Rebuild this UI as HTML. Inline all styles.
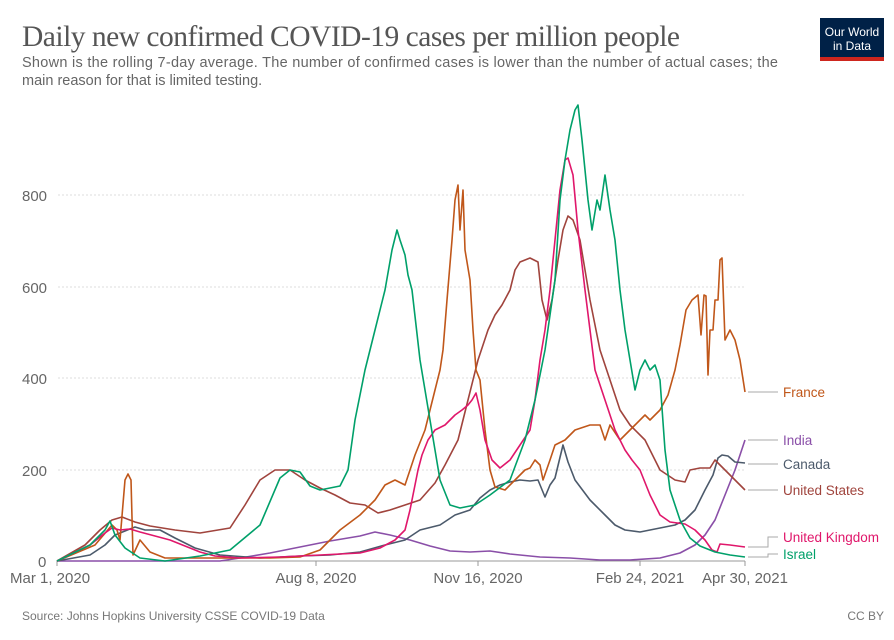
<!DOCTYPE html>
<html><head><meta charset="utf-8"><style>
body{margin:0;background:#fff;width:894px;height:635px;overflow:hidden;font-family:"Liberation Sans",sans-serif}
</style></head><body>
<svg width="894" height="635" viewBox="0 0 894 635" xmlns="http://www.w3.org/2000/svg" font-family="Liberation Sans, sans-serif">
<text x="22" y="46" font-family="Liberation Serif, serif" font-size="29.5" fill="#555" textLength="658">Daily new confirmed COVID-19 cases per million people</text>
<text x="22" y="67" font-size="14.5" fill="#666" textLength="756">Shown is the rolling 7-day average. The number of confirmed cases is lower than the number of actual cases; the</text>
<text x="22" y="85" font-size="14.5" fill="#666">main reason for that is limited testing.</text>
<rect x="820" y="18" width="64" height="42" fill="#002147"/>
<rect x="820" y="57" width="64" height="4" fill="#ce261e"/>
<text x="852" y="36" font-size="12" fill="#fff" text-anchor="middle">Our World</text>
<text x="852" y="50" font-size="12" fill="#fff" text-anchor="middle">in Data</text>
<g stroke="#ddd" stroke-dasharray="2,2" stroke-width="1">
<line x1="58" y1="195" x2="745" y2="195"/><line x1="58" y1="287" x2="745" y2="287"/>
<line x1="58" y1="378" x2="745" y2="378"/><line x1="58" y1="470" x2="745" y2="470"/>
</g>
<line x1="57" y1="561" x2="745" y2="561" stroke="#999"/>
<g stroke="#999"><line x1="316" y1="561" x2="316" y2="566"/><line x1="478" y1="561" x2="478" y2="566"/><line x1="640" y1="561" x2="640" y2="566"/><line x1="745" y1="561" x2="745" y2="566"/><line x1="57" y1="561" x2="57" y2="566"/></g>
<g font-size="15" fill="#666">
<text x="22" y="201">800</text><text x="22" y="293">600</text><text x="22" y="384">400</text><text x="22" y="476">200</text><text x="38" y="567">0</text>
<text x="10" y="583">Mar 1, 2020</text><text x="316" y="583" text-anchor="middle">Aug 8, 2020</text><text x="478" y="583" text-anchor="middle">Nov 16, 2020</text><text x="640" y="583" text-anchor="middle">Feb 24, 2021</text><text x="745" y="583" text-anchor="middle">Apr 30, 2021</text>
</g>
<g fill="none" stroke-width="1.6" stroke-linejoin="round">
<polyline stroke="#8a4fa8" points="57,561 220,561 240,558 270,553 300,547 330,541 360,536 375,532 390,535 410,540 430,546 450,551 470,552 490,551 510,554 540,557 570,558 600,560 630,560 660,558 680,553 695,545 705,535 715,520 725,495 735,470 745,440"/>
<polyline stroke="#4c5a6b" points="57,561 90,555 105,545 115,535 125,531 135,527 145,530 160,530 175,538 195,548 220,555 260,558 300,556 330,555 360,552 385,545 405,540 420,530 440,525 455,515 470,510 480,498 490,490 500,485 510,482 520,480 530,481 538,480 545,497 550,485 555,478 563,445 568,462 575,480 590,500 605,515 615,525 625,530 640,532 660,528 675,525 685,520 695,510 705,490 713,475 718,458 722,455 728,456 735,462 745,463"/>
<polyline stroke="#a0443d" points="57,561 85,545 100,530 112,520 122,517 135,522 150,526 175,530 200,533 230,528 245,505 260,480 275,470 290,470 305,480 320,488 335,495 350,503 365,505 378,513 390,510 405,505 420,500 435,483 445,465 458,440 468,400 478,360 488,330 495,315 502,305 510,290 515,270 520,262 530,258 538,262 542,300 547,320 552,300 558,260 563,230 568,216 573,220 580,240 590,300 600,350 610,380 620,410 630,425 645,440 660,470 675,480 685,482 690,470 700,468 710,468 715,460 720,465 730,475 740,485 745,490"/>
<polyline stroke="#c0571a" points="57,561 95,545 112,525 117,530 120,540 125,480 128,474 131,480 133,555 140,540 150,552 165,558 200,558 270,558 300,557 320,550 340,530 360,515 375,500 385,485 395,480 405,485 415,455 425,430 430,410 435,390 440,370 443,350 447,300 452,240 455,200 458,185 460,230 463,190 465,250 470,280 473,330 476,370 480,380 485,430 490,470 495,487 505,490 515,480 525,470 530,468 535,460 540,465 543,480 550,460 555,445 565,440 575,430 590,425 600,425 605,440 610,425 620,440 625,435 635,425 645,415 650,420 660,410 668,395 675,370 680,345 686,310 692,300 698,295 701,335 704,295 706,296 708,375 710,330 713,330 715,300 718,300 720,260 722,258 725,340 730,330 735,340 740,360 745,392"/>
<polyline stroke="#e0176b" points="57,561 90,545 105,533 112,528 120,530 130,529 140,532 155,536 170,540 185,546 200,552 215,556 240,558 280,557 320,555 360,553 380,548 395,540 405,530 410,510 415,485 418,470 422,455 428,440 435,430 445,425 455,415 462,410 468,405 472,400 476,393 480,410 485,440 492,460 500,468 510,460 520,445 530,430 535,400 540,360 545,330 550,290 555,240 560,190 565,160 568,158 573,175 578,230 585,290 595,370 605,400 615,430 625,450 632,460 640,470 650,495 660,515 670,522 685,524 695,530 705,540 712,550 717,552 720,544 730,545 745,547"/>
<polyline stroke="#00a06a" points="57,561 90,545 105,530 110,521 115,535 125,548 140,558 165,561 200,556 230,550 260,525 280,478 290,470 300,472 310,486 320,490 330,488 340,486 348,470 355,420 365,370 375,330 385,290 392,250 397,230 400,240 405,255 408,275 412,290 420,360 430,420 440,480 450,505 460,508 475,505 490,495 510,480 525,440 535,400 545,350 555,280 560,200 565,160 570,130 575,110 578,105 582,140 588,200 592,230 597,200 600,210 605,175 610,210 615,240 620,290 625,330 630,360 635,390 640,370 645,360 650,370 655,365 660,380 665,450 670,490 680,520 690,538 700,546 715,552 730,555 745,557"/>
</g>
<g stroke="#aaa" fill="none" stroke-width="1">
<polyline points="748,392 778,392"/><polyline points="748,440 778,440"/><polyline points="748,464 778,464"/><polyline points="748,490 778,490"/>
<polyline points="748,547 768,547 768,537 778,537"/><polyline points="748,557 768,557 768,554 778,554"/>
</g>
<g font-size="13.5">
<text x="783" y="397" fill="#c0571a">France</text>
<text x="783" y="445" fill="#8a4fa8">India</text>
<text x="783" y="469" fill="#4c5a6b">Canada</text>
<text x="783" y="495" fill="#a0443d">United States</text>
<text x="783" y="542" fill="#e0176b">United Kingdom</text>
<text x="783" y="559" fill="#00a06a">Israel</text>
</g>
<text x="22" y="620" font-size="12" fill="#777">Source: Johns Hopkins University CSSE COVID-19 Data</text>
<text x="884" y="620" font-size="12" fill="#777" text-anchor="end">CC BY</text>
</svg>
</body></html>
